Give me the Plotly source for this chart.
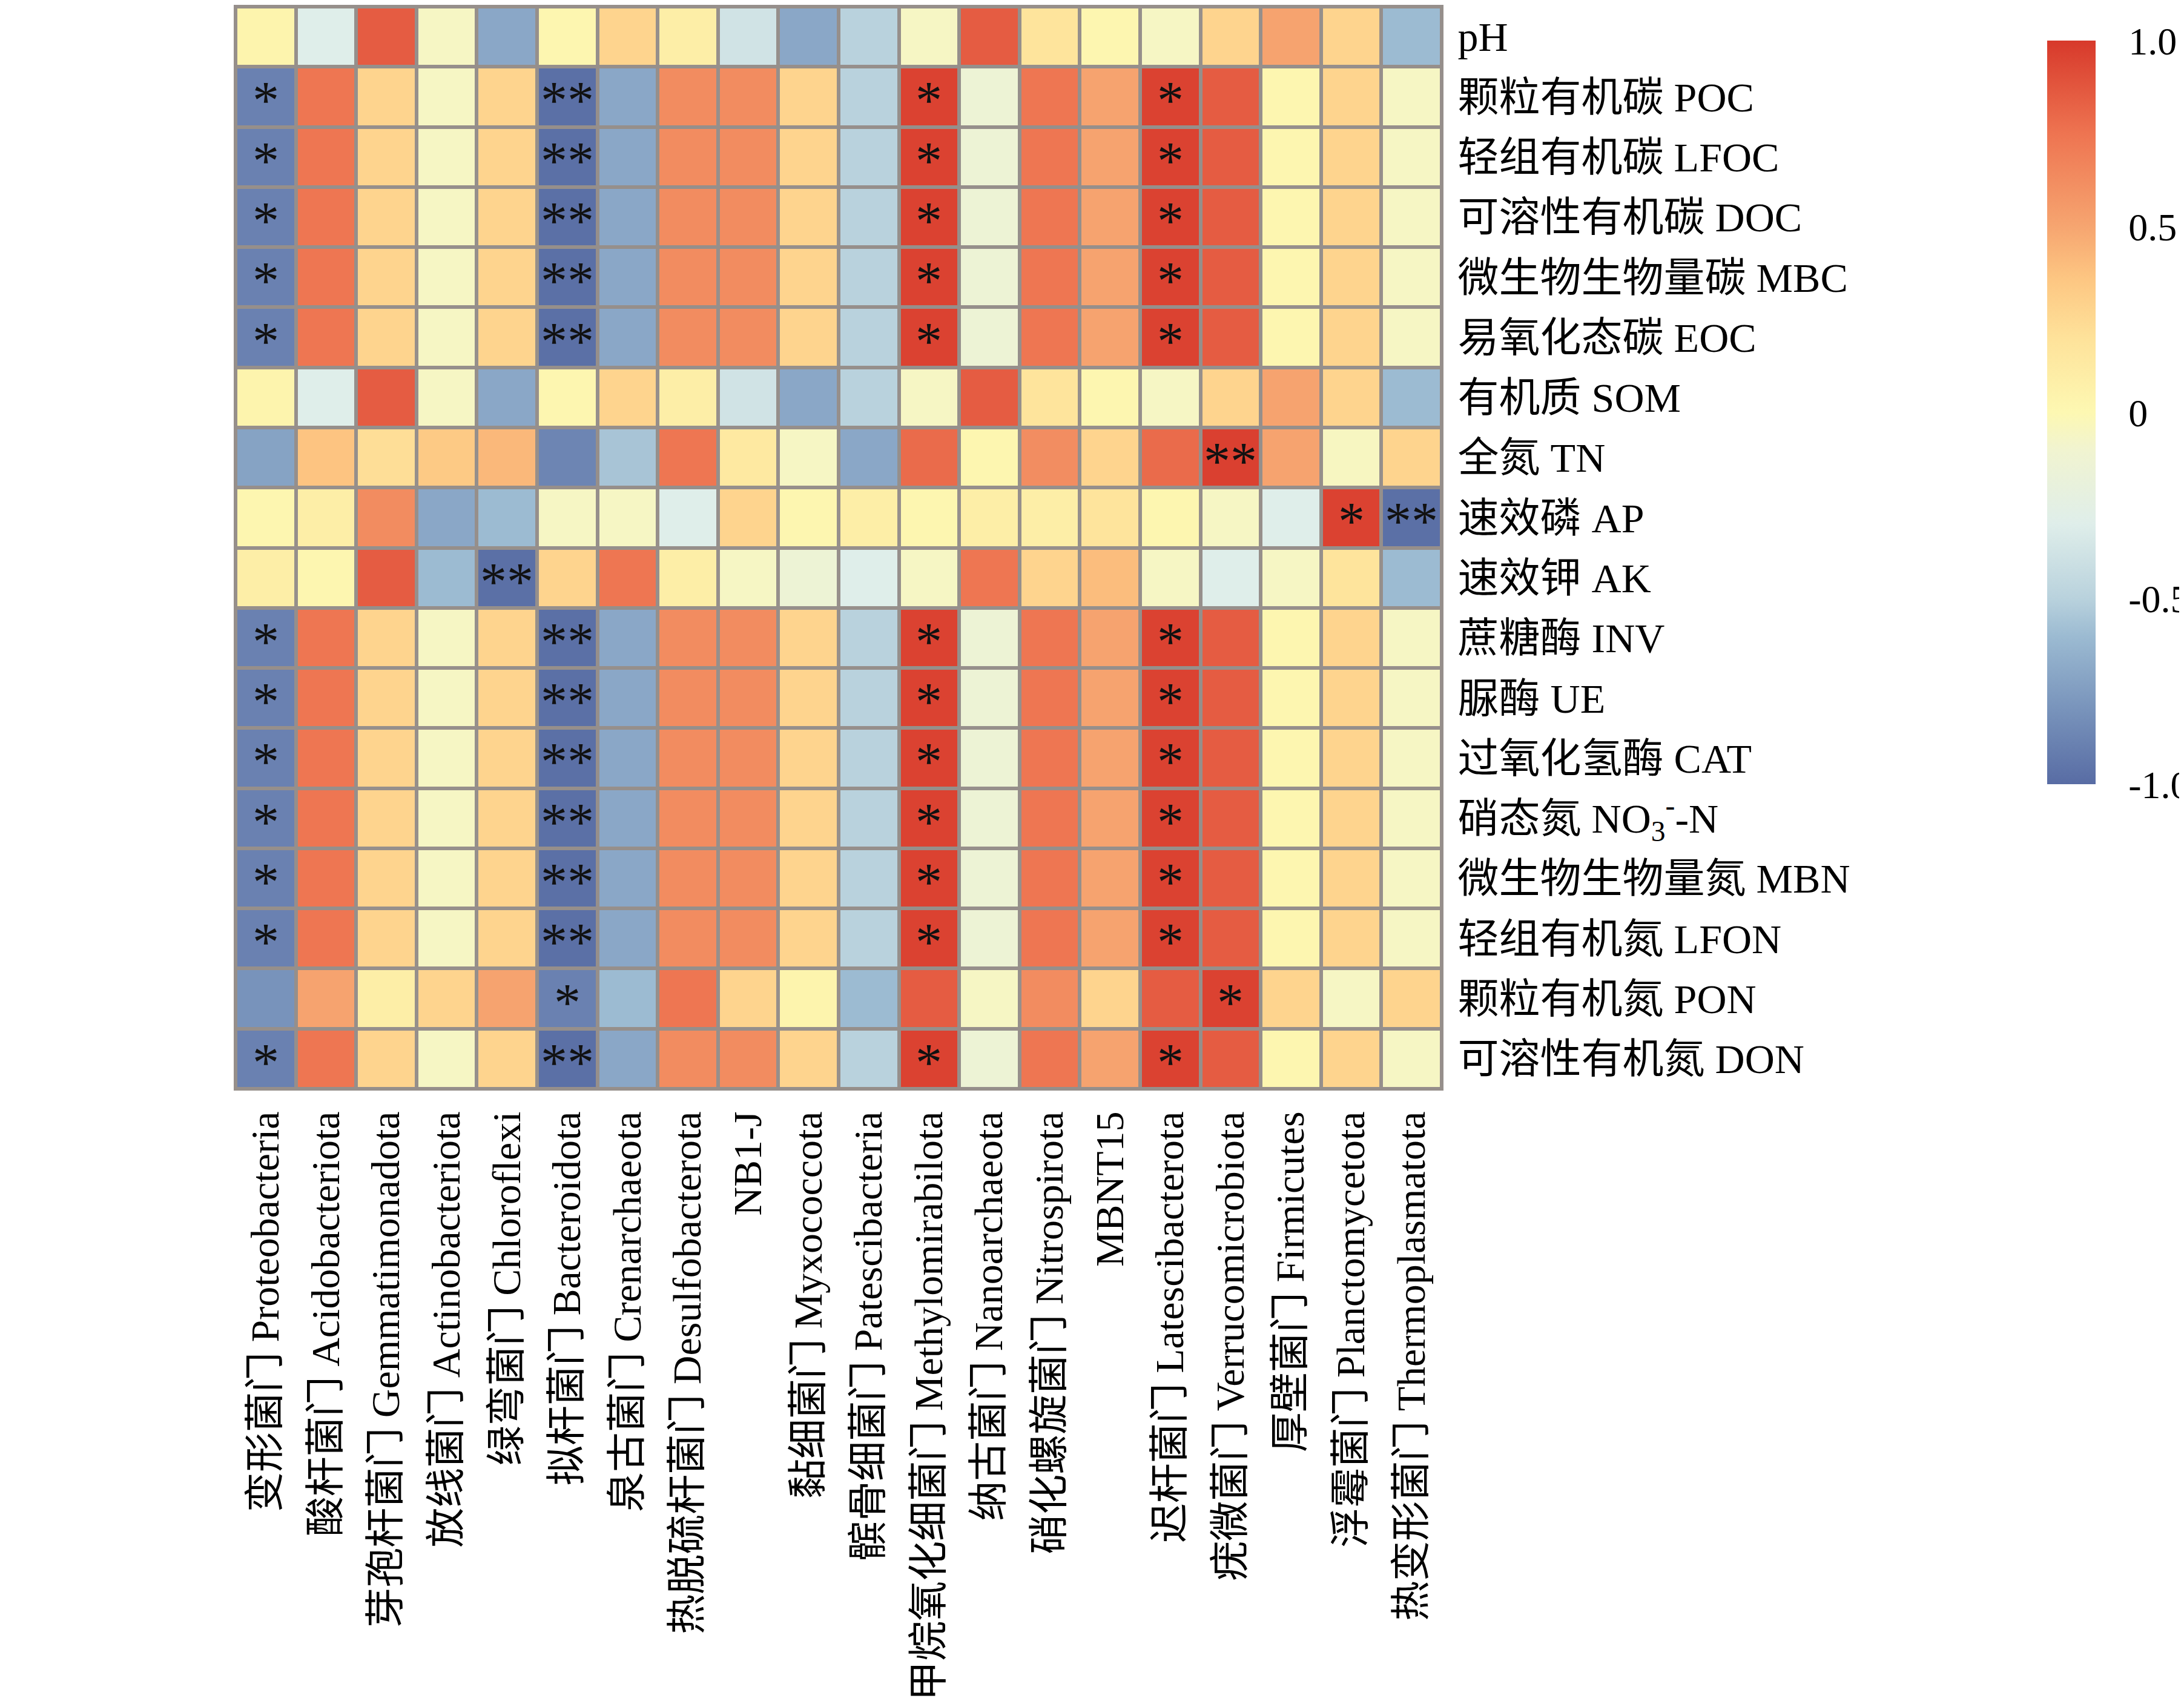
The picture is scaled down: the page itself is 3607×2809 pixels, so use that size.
import plotly.graph_objects as go

# 理化性质 (rows) vs 门水平菌群 (columns)
row_labels = [
    "pH",
    "颗粒有机碳 POC",
    "轻组有机碳 LFOC",
    "可溶性有机碳 DOC",
    "微生物生物量碳 MBC",
    "易氧化态碳 EOC",
    "有机质 SOM",
    "全氮 TN",
    "速效磷 AP",
    "速效钾 AK",
    "蔗糖酶 INV",
    "脲酶 UE",
    "过氧化氢酶 CAT",
    "硝态氮 NO<sub>3</sub><sup>-</sup>-N",
    "微生物生物量氮 MBN",
    "轻组有机氮 LFON",
    "颗粒有机氮 PON",
    "可溶性有机氮 DON",
]

col_labels = [
    "变形菌门 Proteobacteria",
    "酸杆菌门 Acidobacteriota",
    "芽孢杆菌门 Gemmatimonadota",
    "放线菌门 Actinobacteriota",
    "绿弯菌门 Chloroflexi",
    "拟杆菌门 Bacteroidota",
    "泉古菌门 Crenarchaeota",
    "热脱硫杆菌门 Desulfobacterota",
    "NB1-J",
    "黏细菌门 Myxococcota",
    "髌骨细菌门 Patescibacteria",
    "甲烷氧化细菌门 Methylomirabilota",
    "纳古菌门 Nanoarchaeota",
    "硝化螺旋菌门 Nitrospirota",
    "MBNT15",
    "迟杆菌门 Latescibacterota",
    "疣微菌门 Verrucomicrobiota",
    "厚壁菌门 Firmicutes",
    "浮霉菌门 Planctomycetota",
    "热变形菌门 Thermoplasmatota",
]

# correlation coefficients
corr = [
    [0.04, -0.30, 0.85, -0.06, -0.70, 0.02, 0.28, 0.09, -0.38, -0.70, -0.50, -0.06, 0.85, 0.18, 0.02, -0.06, 0.28, 0.51, 0.28, -0.60],
    [-0.89, 0.74, 0.28, -0.06, 0.28, -0.98, -0.70, 0.63, 0.63, 0.28, -0.50, 0.96, -0.14, 0.74, 0.51, 0.96, 0.85, 0.02, 0.28, -0.06],
    [-0.89, 0.74, 0.28, -0.06, 0.28, -0.98, -0.70, 0.63, 0.63, 0.28, -0.50, 0.96, -0.14, 0.74, 0.51, 0.96, 0.85, 0.02, 0.28, -0.06],
    [-0.89, 0.74, 0.28, -0.06, 0.28, -0.98, -0.70, 0.63, 0.63, 0.28, -0.50, 0.96, -0.14, 0.74, 0.51, 0.96, 0.85, 0.02, 0.28, -0.06],
    [-0.89, 0.74, 0.28, -0.06, 0.28, -0.98, -0.70, 0.63, 0.63, 0.28, -0.50, 0.96, -0.14, 0.74, 0.51, 0.96, 0.85, 0.02, 0.28, -0.06],
    [-0.89, 0.74, 0.28, -0.06, 0.28, -0.98, -0.70, 0.63, 0.63, 0.28, -0.50, 0.96, -0.14, 0.74, 0.51, 0.96, 0.85, 0.02, 0.28, -0.06],
    [0.04, -0.30, 0.85, -0.06, -0.70, 0.02, 0.28, 0.09, -0.38, -0.70, -0.50, -0.06, 0.85, 0.18, 0.02, -0.06, 0.28, 0.51, 0.28, -0.60],
    [-0.72, 0.37, 0.22, 0.34, 0.42, -0.87, -0.56, 0.74, 0.14, -0.06, -0.70, 0.79, 0.02, 0.62, 0.28, 0.79, 0.97, 0.51, -0.05, 0.28],
    [0.02, 0.09, 0.63, -0.70, -0.60, -0.06, -0.06, -0.30, 0.28, 0.02, 0.09, 0.02, 0.09, 0.09, 0.18, 0.02, -0.06, -0.30, 0.96, -0.98],
    [0.09, 0.02, 0.85, -0.60, -0.98, 0.28, 0.74, 0.09, -0.06, -0.14, -0.30, -0.06, 0.74, 0.28, 0.40, -0.06, -0.30, -0.06, 0.18, -0.60],
    [-0.89, 0.74, 0.28, -0.06, 0.28, -0.98, -0.70, 0.63, 0.63, 0.28, -0.50, 0.96, -0.14, 0.74, 0.51, 0.96, 0.85, 0.02, 0.28, -0.06],
    [-0.89, 0.74, 0.28, -0.06, 0.28, -0.98, -0.70, 0.63, 0.63, 0.28, -0.50, 0.96, -0.14, 0.74, 0.51, 0.96, 0.85, 0.02, 0.28, -0.06],
    [-0.89, 0.74, 0.28, -0.06, 0.28, -0.98, -0.70, 0.63, 0.63, 0.28, -0.50, 0.96, -0.14, 0.74, 0.51, 0.96, 0.85, 0.02, 0.28, -0.06],
    [-0.89, 0.74, 0.28, -0.06, 0.28, -0.98, -0.70, 0.63, 0.63, 0.28, -0.50, 0.96, -0.14, 0.74, 0.51, 0.96, 0.85, 0.02, 0.28, -0.06],
    [-0.89, 0.74, 0.28, -0.06, 0.28, -0.98, -0.70, 0.63, 0.63, 0.28, -0.50, 0.96, -0.14, 0.74, 0.51, 0.96, 0.85, 0.02, 0.28, -0.06],
    [-0.89, 0.74, 0.28, -0.06, 0.28, -0.98, -0.70, 0.63, 0.63, 0.28, -0.50, 0.96, -0.14, 0.74, 0.51, 0.96, 0.85, 0.02, 0.28, -0.06],
    [-0.80, 0.51, 0.09, 0.28, 0.51, -0.89, -0.60, 0.74, 0.28, 0.04, -0.60, 0.85, -0.06, 0.63, 0.28, 0.85, 0.96, 0.28, -0.06, 0.28],
    [-0.89, 0.74, 0.28, -0.06, 0.28, -0.98, -0.70, 0.63, 0.63, 0.28, -0.50, 0.96, -0.14, 0.74, 0.51, 0.96, 0.85, 0.02, 0.28, -0.06],
]

# significance marks per cell
sig_c = ["*", "", "", "", "", "**", "", "", "", "", "", "*", "", "", "", "*", "", "", "", ""]
sig_none = [""] * 20
signif = [
    sig_none,
    sig_c, sig_c, sig_c, sig_c, sig_c,
    sig_none,
    ["", "", "", "", "", "", "", "", "", "", "", "", "", "", "", "", "**", "", "", ""],
    ["", "", "", "", "", "", "", "", "", "", "", "", "", "", "", "", "", "", "*", "**"],
    ["", "", "", "", "**", "", "", "", "", "", "", "", "", "", "", "", "", "", "", ""],
    sig_c, sig_c, sig_c, sig_c, sig_c, sig_c,
    ["", "", "", "", "", "*", "", "", "", "", "", "", "", "", "", "", "*", "", "", ""],
    sig_c,
]

cbar_vals = [-1, -0.5, 0, 0.5, 1]
cbar_text = ["-1.0", "-0.5", "0", "0.5", "1.0"]

scale = [
    [0.0, "#586ca4"], [0.1, "#7893bb"], [0.2, "#9cbbd2"], [0.25, "#b9d2dd"],
    [0.35, "#dfeeea"], [0.45, "#f1f4d0"], [0.5, "#fdf8b2"], [0.6, "#fee29a"],
    [0.68, "#fdc682"], [0.75, "#f6a570"], [0.875, "#ee7451"], [1.0, "#d7392b"],
]

font_fam = "Liberation Serif, 'Noto Sans CJK SC', serif"
grid_col = "#968f8b"

fig = go.Figure()
fig.add_trace(go.Heatmap(
    z=corr,
    x=list(range(len(col_labels))),
    y=list(range(len(row_labels))),
    zmin=-1, zmax=1,
    colorscale=scale,
    xgap=6, ygap=6,
    hoverinfo="skip",
    colorbar=dict(
        x=1.502, xanchor="left", xpad=0,
        y=0.625, yanchor="middle", ypad=0,
        thickness=80, len=1228, lenmode="pixels",
        outlinewidth=0,
        tickvals=cbar_vals, ticktext=cbar_text,
        ticks="outside", ticklen=42, tickcolor="rgba(0,0,0,0)",
        tickfont=dict(family=font_fam, size=64, color="black"),
    ),
))

for i, row in enumerate(signif):
    for j, mark in enumerate(row):
        if mark:
            fig.add_annotation(
                x=j, y=i, text=mark, showarrow=False,
                font=dict(family=font_fam, size=88, color="#111111"),
                yshift=-6,
            )

fig.update_xaxes(
    range=[-0.5, len(col_labels) - 0.5],
    tickvals=list(range(len(col_labels))), ticktext=col_labels,
    tickangle=-90, side="bottom",
    tickfont=dict(family=font_fam, size=66, color="black"),
    ticks="", ticklabelstandoff=8,
    showgrid=False, zeroline=False,
    showline=True, mirror=True, linecolor=grid_col, linewidth=3,
)
fig.update_yaxes(
    range=[len(row_labels) - 0.5, -0.5],
    tickvals=list(range(len(row_labels))), ticktext=row_labels,
    side="right",
    tickfont=dict(family=font_fam, size=68, color="black"),
    ticks="", ticklabelstandoff=10,
    showgrid=False, zeroline=False,
    showline=True, mirror=True, linecolor=grid_col, linewidth=3,
)

fig.update_layout(
    width=3607, height=2809,
    margin=dict(l=381, r=1234, t=3, b=1019, autoexpand=False),
    plot_bgcolor=grid_col,
    paper_bgcolor="white",
    showlegend=False,
)

fig.write_html("out.html")
